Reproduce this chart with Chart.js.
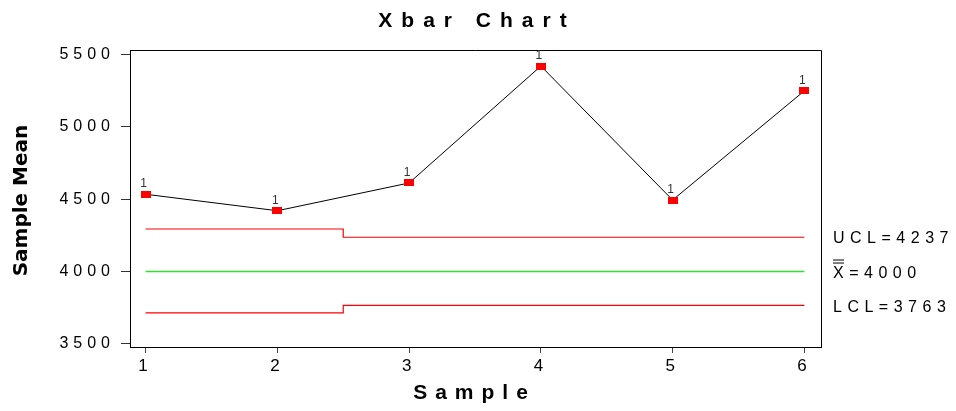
<!DOCTYPE html>
<html>
<head>
<meta charset="utf-8">
<script src="https://cdn.jsdelivr.net/npm/chart.js@4.4.0/dist/chart.umd.min.js"></script>
<style>
body { margin: 0; background: #fff; }
#wrap { width: 956px; height: 411px; }
</style>
</head>
<body>
<div id="wrap"><canvas id="xbarChart"></canvas></div>
<script>
// values
const samples = [1, 2, 3, 4, 5, 6];
const sampleMeans = [4534, 4420, 4612, 5420, 4494, 5249];
const testFlags = ['1', '1', '1', '1', '1', '1'];
const limitX = [1, 2.5, 2.5, 6];
const uclValues = [4294, 4294, 4237, 4237];
const centerValues = [4000, 4000, 4000, 4000];
const lclValues = [3714, 3714, 3766, 3766];
const yTicks = [3500, 4000, 4500, 5000, 5500];
const limitLabels = ['UCL=4237', 'X=4000', 'LCL=3763'];
const limitLabelValues = [4237, 4000, 3763];

// red rectangle marker
const marker = document.createElement('canvas');
marker.width = 10;
marker.height = 7;
const mctx = marker.getContext('2d');
mctx.fillStyle = '#ff0000';
mctx.fillRect(0, 0, 10, 7);

function toPoints(xs, ys) {
  const pts = [];
  for (let i = 0; i < xs.length; i++) {
    pts.push({ x: xs[i], y: ys[i] });
  }
  return pts;
}

const chartText = {
  id: 'chartText',
  beforeDraw(chart) {
    chart.ctx.letterSpacing = '5px';
  },
  beforeDatasetsDraw(chart) {
    chart.ctx.letterSpacing = '0px';
  },
  afterDraw(chart) {
    const ctx = chart.ctx;
    const area = chart.chartArea;
    const yScale = chart.scales.y;
    ctx.save();

    // top and right side of the box
    ctx.strokeStyle = '#000';
    ctx.lineWidth = 1;
    ctx.beginPath();
    ctx.moveTo(area.left, area.top + 0.5);
    ctx.lineTo(area.right + 0.5, area.top + 0.5);
    ctx.lineTo(area.right + 0.5, area.bottom);
    ctx.stroke();

    // "1" test flags above each point
    ctx.letterSpacing = '0px';
    ctx.font = '12px "Liberation Sans", Arial';
    ctx.fillStyle = '#333';
    ctx.textAlign = 'center';
    ctx.textBaseline = 'alphabetic';
    const meta = chart.getDatasetMeta(0);
    meta.data.forEach((pt, i) => {
      ctx.fillText(testFlags[i], pt.x - 2, pt.y - 7);
    });

    // title
    ctx.fillStyle = '#000';
    ctx.font = 'bold 21px "Liberation Sans", Arial';
    ctx.letterSpacing = '9px';
    ctx.fillText('Xbar Chart', 477, 27);

    // x title
    ctx.letterSpacing = '8px';
    ctx.fillText('Sample', 474.5, 399);

    // y title
    ctx.letterSpacing = '0px';
    ctx.font = 'bold 20px "DejaVu Sans"';
    ctx.save();
    ctx.translate(27, 200.5);
    ctx.rotate(-Math.PI / 2);
    ctx.fillText('Sample Mean', 0, 0);
    ctx.restore();

    // limit labels on the right
    ctx.font = '16px "Liberation Sans", Arial';
    ctx.letterSpacing = '5.5px';
    ctx.textAlign = 'left';
    for (let i = 0; i < limitLabels.length; i++) {
      const y = yScale.getPixelForValue(limitLabelValues[i]) + 6;
      ctx.fillText(limitLabels[i], 833, y);
      if (limitLabels[i].charAt(0) === 'X') {
        ctx.beginPath();
        ctx.moveTo(833, y - 17.5);
        ctx.lineTo(844, y - 17.5);
        ctx.moveTo(833, y - 14.5);
        ctx.lineTo(844, y - 14.5);
        ctx.stroke();
      }
    }
    ctx.restore();
  }
};

const data = {
  datasets: [
    {
      label: 'Mean',
      data: toPoints(samples, sampleMeans),
      borderColor: '#000',
      borderWidth: 1,
      pointStyle: marker,
      pointRadius: 5,
      tension: 0
    },
    {
      label: 'UCL',
      data: toPoints(limitX, uclValues),
      borderColor: '#ff0000',
      borderWidth: 1.2,
      pointRadius: 0
    },
    {
      label: 'Center',
      data: toPoints(limitX, centerValues),
      borderColor: '#33dd33',
      borderWidth: 1.7,
      pointRadius: 0
    },
    {
      label: 'LCL',
      data: toPoints(limitX, lclValues),
      borderColor: '#ff0000',
      borderWidth: 1.2,
      pointRadius: 0
    }
  ]
};

const config = {
  type: 'line',
  data: data,
  plugins: [chartText],
  options: {
    responsive: true,
    maintainAspectRatio: false,
    animation: false,
    layout: { padding: { left: 0, right: 135, top: 50, bottom: 0 } },
    plugins: {
      legend: { display: false },
      tooltip: { enabled: false },
      title: { display: false }
    },
    scales: {
      x: {
        type: 'linear',
        min: 0.8816,
        max: 6.126,
        afterBuildTicks: s => { s.ticks = samples.map(v => ({ value: v })); },
        afterFit: s => { s.height = 64; },
        grid: { drawOnChartArea: false, drawTicks: true, tickLength: 6, color: '#444' },
        border: { display: true, color: '#000', width: 1 },
        ticks: {
          font: { family: '"Liberation Sans Narrow", "Arial Narrow", "Liberation Sans"', size: 17 },
          color: '#000',
          padding: 3,
          maxRotation: 0,
          autoSkip: false,
          callback: v => String(v)
        }
      },
      y: {
        type: 'linear',
        min: 3478.3,
        max: 5531,
        afterBuildTicks: s => { s.ticks = yTicks.map(v => ({ value: v })); },
        afterFit: s => { s.width = 130; },
        grid: { drawOnChartArea: false, drawTicks: true, tickLength: 9, color: '#333' },
        border: { display: true, color: '#000', width: 1 },
        ticks: {
          font: { family: '"Liberation Sans", Arial', size: 16 },
          color: '#000',
          padding: 6,
          callback: v => String(v)
        }
      }
    }
  }
};

const xbar = new Chart(document.getElementById('xbarChart'), config);
</script>
</body>
</html>
